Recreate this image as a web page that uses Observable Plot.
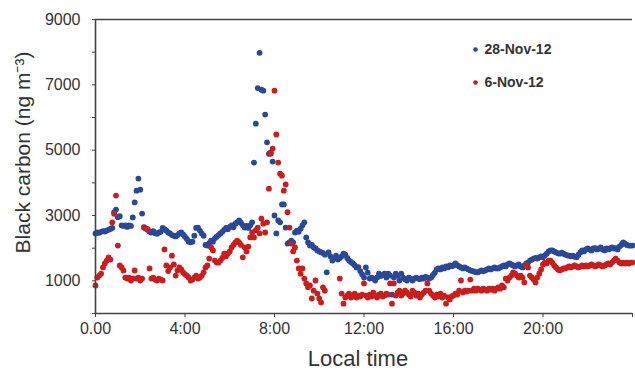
<!DOCTYPE html>
<html>
<head>
<meta charset="utf-8">
<script src="https://cdn.jsdelivr.net/npm/d3@7"></script>
<script src="https://cdn.jsdelivr.net/npm/@observablehq/plot@0.6"></script>
<style>
  html, body { margin: 0; padding: 0; background: #fff; }
</style>
</head>
<body>
<div id="chart"></div>
<script>
// Sampling step of the series (minutes); each row below is one hour of readings
const stepMinutes = 5;

const seriesNames = ["28-Nov-12", "6-Nov-12"];
const seriesColors = ["#2a4898", "#cc1c1c"];

// 28-Nov-12, black carbon (ng m-3), one row per hour, 5-min readings
const nov28 = [
  [2450,2480,2470,2500,2520,2510,2540,2560,2590,2620,3100,3180],
  [2950,2980,2700,2680,2700,2650,2700,2680,2940,3400,3760,4130],
  [3790,3060,2640,2600,2560,2500,2480,2520,2460,2440,2480,2500],
  [2620,2580,2540,2480,2450,2400,2380,2360,2400,2450,2480,2420],
  [2350,2280,2200,2180,2200,2380,2620,2630,2540,2450,2380,2100],
  [2080,2150,2230,2200,2300,2350,2400,2450,2500,2560,2620,2580],
  [2650,2700,2640,2750,2800,2850,2780,2700,2630,2680,2620,2700],
  [2790,4620,5810,6900,7980,6850,6820,6090,5240,4890,4930,4650],
  [3000,2450,2850,2790,3340,3340,2630,2140,2180,2230,2180,2480],
  [2540,2500,2600,2700,2790,2330,2180,2080,2100,2030,1990,1930],
  [1900,1870,1850,1800,1260,1870,1750,1620,1680,1770,1650,1700],
  [1750,1830,1800,1700,1620,1580,1530,1480,1410,1420,1300,1200],
  [1100,1410,1250,1070,1100,1070,1010,1100,1220,1150,1180,1220],
  [1100,1220,1160,580,1100,1220,1160,1010,1220,1100,1050,1010],
  [1100,1070,1010,1070,1100,1070,1050,1100,1070,1120,1100,1070],
  [1100,1180,1250,1350,1380,1350,1410,1380,1440,1410,1470,1450],
  [1470,1530,1480,1440,1410,1380,1410,1380,1350,1320,1300,1290],
  [1260,1260,1290,1320,1290,1320,1350,1380,1350,1380,1410,1380],
  [1380,1410,1440,1470,1440,1500,1530,1500,1470,1440,1470,1500],
  [1440,1410,1470,1530,1560,1620,1650,1680,1700,1680,1720,1750],
  [1720,1780,1830,1900,1930,1930,1900,1870,1840,1830,1860,1830],
  [1800,1780,1770,1750,1770,1740,1720,1800,1870,1930,1900,1960],
  [1990,1960,1930,1990,2000,1960,1990,2020,1960,1930,1990,1960],
  [1990,2020,1990,2000,1960,2050,2100,2180,2140,2100,2080,2080],
  [2080]
];

// 6-Nov-12, black carbon (ng m-3), one row per hour, 5-min readings (null = no reading)
const nov6 = [
  [860,1100,1160,1220,1410,1530,1620,1720,1650,2790,3050,3610],
  [2080,1470,1410,1320,1100,1070,1100,1010,1070,1320,1070,1100],
  [1010,1070,2630,2600,2580,1380,1070,1100,1040,1010,1070,1040],
  [1010,1960,1470,1300,1410,1770,1500,1160,1320,1410,1350,1260],
  [1200,1160,1100,1010,1040,1100,1160,1070,1100,1160,1260,1410],
  [1470,1680,2020,1930,1620,1560,1560,1620,1700,1830,1750,1830],
  [1900,2020,2100,2180,2230,2180,2100,1720,2020,1900,2050,2330],
  [2480,2330,2550,2630,2450,2900,2750,2480,2790,3820,4890,5050],
  [6820,5480,4620,4280,4220,3760,3950,3100,2630,2140,1900,2020],
  [1620,1380,1220,1380,1070,920,800,860,460,700,1010,610],
  [460,340,800,700,null,null,null,null,null,null,null,1070],
  [610,300,490,550,610,490,520,610,490,550,520,580],
  [920,550,490,580,520,640,550,490,580,610,520,550],
  [610,580,920,300,920,550,640,700,550,610,700,640],
  [580,520,700,640,550,610,490,580,640,700,920,700],
  [610,550,490,580,520,610,490,550,300,490,430,520],
  [550,610,580,700,1010,640,700,670,700,1040,700,760],
  [700,760,730,700,760,730,700,760,730,760,700,760],
  [800,760,860,800,1070,1010,1100,1160,1260,1220,1160,1100],
  [1160,1100,950,1470,1410,1160,1100,1040,950,1100,1220,1350],
  [1500,1560,1530,1620,1620,1560,1470,1410,1350,1320,1350,1380],
  [1380,1410,1440,1410,1440,1470,1440,1410,1440,1470,1440,1470],
  [1440,1470,1500,1470,1440,1470,1500,1470,1440,1470,1500,1530],
  [1500,1560,1620,1680,1620,1560,1530,1560,1530,1560,1530,1560],
  [1560]
];

const xTicks = [0, 4, 8, 12, 16, 20, 24];
const xTickLabels = ["0.00", "4:00", "8:00", "12:00", "16:00", "20:00", ""];
const yTicks = [1000, 3000, 5000, 7000, 9000];
const yMinorTicks = [0, 2000, 4000, 6000, 8000];
const xTitle = "Local time";
const yTitle = "Black carbon (ng m\u207B\u00B3)";

const toPoints = rows => rows.flatMap((row, h) =>
  row.map((v, i) => ({t: h + i * stepMinutes / 60, v}))).filter(d => d.v != null);

const bluePts = toPoints(nov28);
const redPts = toPoints(nov6);
const xLabelMap = new Map(xTicks.map((t, i) => [t, xTickLabels[i]]));

const axisColor = "#444";
const legendMarks = seriesNames.flatMap((name, i) => [
  Plot.dot([name], {frameAnchor: "top-left", dx: 380, dy: 30 + i * 33, r: 2.3, fill: seriesColors[i], stroke: "none"}),
  Plot.text([name], {text: d => d, frameAnchor: "top-left", dx: 389, dy: 30 + i * 33, textAnchor: "start", lineAnchor: "middle", fontWeight: "bold", fontSize: 14, fill: "#333"})
]);

const chart = Plot.plot({
  width: 635,
  height: 372,
  marginLeft: 95,
  marginRight: 3,
  marginTop: 19,
  marginBottom: 59,
  style: {fontFamily: "'Liberation Sans', Arial, sans-serif", fontSize: "16px", color: "#333", background: "#fff", overflow: "visible"},
  x: {domain: [0, 24]},
  y: {domain: [0, 9000]},
  marks: [
    Plot.dot(bluePts, {x: "t", y: "v", r: 2.9, fill: seriesColors[0], stroke: "none"}),
    Plot.dot(redPts, {x: "t", y: "v", r: 2.9, fill: seriesColors[1], stroke: "none"}),
    Plot.ruleY([9000], {stroke: axisColor, strokeWidth: 1.6}),
    Plot.ruleY([0], {stroke: axisColor, strokeWidth: 1.6}),
    Plot.ruleX([0], {stroke: axisColor, strokeWidth: 1.6}),
    Plot.axisY({ticks: yMinorTicks, tickSize: 3, tickFormat: () => "", label: null, stroke: axisColor}),
    Plot.axisY({ticks: yTicks, tickSize: 3, tickPadding: 12, tickFormat: d3.format("d"), label: null, stroke: axisColor, fill: "#333"}),
    Plot.axisX({ticks: xTicks, tickSize: 4, tickPadding: 5, tickFormat: d => xLabelMap.get(d), label: null, stroke: axisColor, fill: "#333"}),
    Plot.text([xTitle], {text: d => d, frameAnchor: "bottom", textAnchor: "middle", lineAnchor: "middle", dx: -6, dy: 45, fontSize: 22, fill: "#333"}),
    Plot.text([yTitle], {text: d => d, frameAnchor: "left", textAnchor: "middle", lineAnchor: "middle", rotate: -90, dx: -72, dy: -14, fontSize: 21, fill: "#333"}),
    ...legendMarks
  ]
});

document.getElementById("chart").appendChild(chart);
</script>
</body>
</html>
